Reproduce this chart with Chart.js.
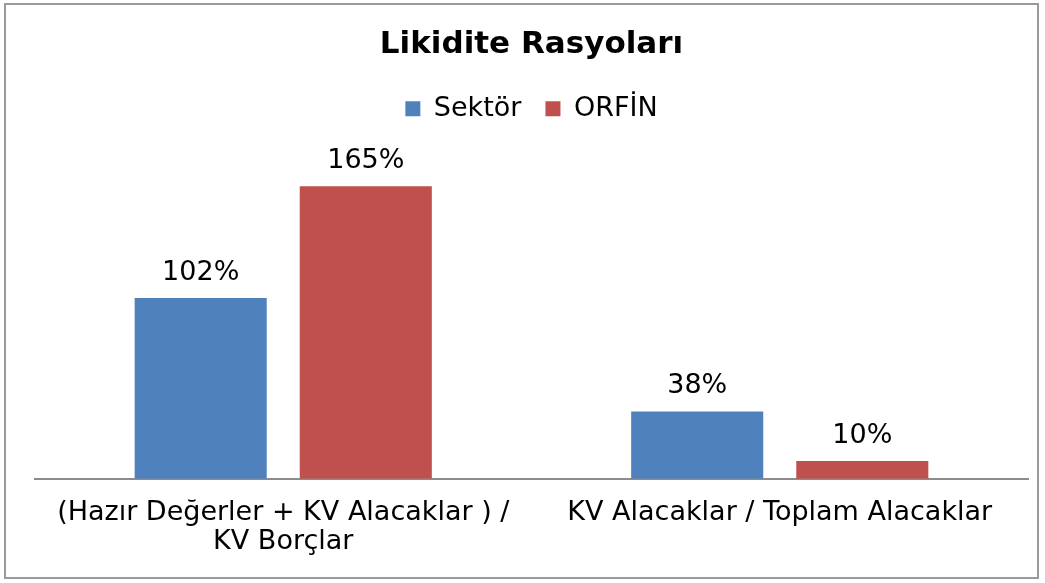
<!DOCTYPE html>
<html>
<head>
<meta charset="utf-8">
<script src="https://cdn.jsdelivr.net/npm/chart.js@4"></script>
<style>
  html, body { margin: 0; padding: 0; background: #fff; }
  #wrap { position: absolute; left: 4px; top: 3px; width: 1035px; height: 576px; border: 2px solid #9a9a9a; box-sizing: border-box; background: #fff; }
  canvas { display: block; }
</style>
</head>
<body>
<div id="wrap"><canvas id="c"></canvas></div>
<script>
const categories = [["(Hazır Değerler + KV Alacaklar ) /", "KV Borçlar"], "KV Alacaklar / Toplam Alacaklar"];
const seriesNames = ["Sektör", "ORFİN"];
const sektorValues = [1.02, 0.38];
const orfinValues = [1.65, 0.10];
const chartTitle = "Likidite Rasyoları";

const FONT = "'DejaVu Sans', Verdana, sans-serif";

const valueLabels = {
  id: 'valueLabels',
  afterDatasetsDraw(chart) {
    const ctx = chart.ctx;
    ctx.save();
    ctx.font = "27px " + FONT;
    ctx.fillStyle = "#000";
    ctx.textAlign = "center";
    ctx.textBaseline = "alphabetic";
    chart.data.datasets.forEach((ds, i) => {
      const meta = chart.getDatasetMeta(i);
      meta.data.forEach((bar, j) => {
        const v = ds.data[j];
        ctx.fillText(Math.round(v * 100) + "%", bar.x, bar.y - 18);
      });
    });
    ctx.restore();
  }
};

new Chart(document.getElementById('c'), {
  type: 'bar',
  data: {
    labels: categories,
    datasets: [
      { label: seriesNames[0], data: sektorValues, backgroundColor: '#4F81BD', barPercentage: 0.8, categoryPercentage: 0.665 },
      { label: seriesNames[1], data: orfinValues, backgroundColor: '#C0504D', barPercentage: 0.8, categoryPercentage: 0.665 }
    ]
  },
  options: {
    responsive: true,
    maintainAspectRatio: false,
    animation: false,
    layout: { padding: { left: 29, right: 9, top: 0, bottom: 1 } },
    plugins: {
      title: {
        display: true,
        text: chartTitle,
        color: '#000',
        font: { family: FONT, size: 31, weight: 'bold', lineHeight: 1.2 },
        padding: { top: 21, bottom: 8 }
      },
      legend: {
        display: true,
        position: 'top',
        labels: {
          color: '#000',
          font: { family: FONT, size: 27 },
          boxWidth: 15,
          boxHeight: 15,
          padding: 24
        }
      },
      tooltip: { enabled: false }
    },
    scales: {
      x: {
        grid: { display: false, drawTicks: false },
        border: { display: true, color: '#8c8c8c', width: 2 },
        ticks: { color: '#000', font: { family: FONT, size: 27, lineHeight: 1.06 }, padding: 20, maxRotation: 0, autoSkip: false }
      },
      y: {
        display: false,
        min: 0,
        max: 1.955
      }
    }
  },
  plugins: [valueLabels]
});
</script>
</body>
</html>
